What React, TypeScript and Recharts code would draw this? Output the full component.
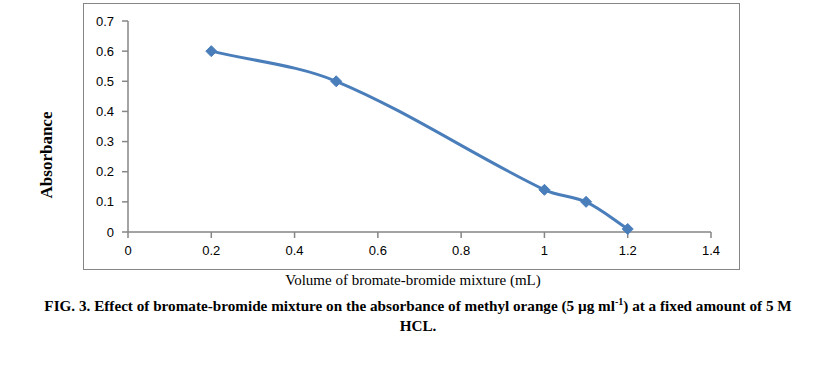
import { LineChart, Line, XAxis, YAxis } from 'recharts';

const volume = [0.2, 0.5, 1.0, 1.1, 1.2];
const absorbance = [0.6, 0.5, 0.14, 0.1, 0.01];
const xTicks = [0, 0.2, 0.4, 0.6, 0.8, 1, 1.2, 1.4];
const yTicks = [0, 0.1, 0.2, 0.3, 0.4, 0.5, 0.6, 0.7];

const data = volume.map((v, i) => ({ v, a: absorbance[i] }));

const BLUE = '#4a7ebb';
const AXIS = '#868686';
const tickStyle = { fill: '#000', fontSize: 13, fontFamily: 'Liberation Sans, Arial, sans-serif' };

// smoothed line like Excel's: tangent along neighbours, handle length from segment length
function excelCurve(context: any) {
  let pts: number[][] = [];
  const tangent = (a: number[], b: number[]) => {
    const dx = b[0] - a[0], dy = b[1] - a[1];
    const l = Math.hypot(dx, dy) || 1;
    return [dx / l, dy / l];
  };
  return {
    areaStart() {},
    areaEnd() {},
    lineStart() { pts = []; },
    point(x: number, y: number) { pts.push([+x, +y]); },
    lineEnd() {
      const n = pts.length;
      if (!n) return;
      context.moveTo(pts[0][0], pts[0][1]);
      for (let i = 0; i < n - 1; i++) {
        const p0 = pts[Math.max(i - 1, 0)], p1 = pts[i], p2 = pts[i + 1], p3 = pts[Math.min(i + 2, n - 1)];
        const len = Math.hypot(p2[0] - p1[0], p2[1] - p1[1]) / 3;
        const t1 = tangent(p0, p2);
        const t2 = tangent(p1, p3);
        context.bezierCurveTo(
          p1[0] + t1[0] * len, p1[1] + t1[1] * len,
          p2[0] - t2[0] * len, p2[1] - t2[1] * len,
          p2[0], p2[1],
        );
      }
    },
  };
}

function Diamond(props: any) {
  const { cx, cy } = props;
  if (cx == null || cy == null) return null;
  const r = 5.5;
  return (
    <path
      d={`M${cx},${cy - r} L${cx + r},${cy} L${cx},${cy + r} L${cx - r},${cy} Z`}
      fill={BLUE}
      stroke={BLUE}
      strokeWidth={1}
    />
  );
}

export default function App() {
  return (
    <div style={{ position: 'absolute', left: 0, top: 0, width: 814, height: 366, background: '#fff' }}>
      <div style={{ position: 'absolute', left: 83, top: 3, width: 655, height: 265, border: `1.5px solid ${AXIS}` }} />
      <div style={{ position: 'absolute', left: 0, top: 0 }}>
        <LineChart width={814} height={366} data={data} margin={{ top: 21, right: 103, left: 68, bottom: 104 }}>
          <XAxis
            dataKey="v"
            type="number"
            domain={[0, 1.4]}
            ticks={xTicks}
            interval={0}
            height={30}
            stroke={AXIS}
            strokeWidth={1.5}
            tickSize={6}
            tickMargin={8}
            tick={tickStyle}
          />
          <YAxis
            dataKey="a"
            type="number"
            domain={[0, 0.7]}
            ticks={yTicks}
            interval={0}
            width={60}
            stroke={AXIS}
            strokeWidth={1.5}
            tickSize={6}
            tickMargin={8}
            tick={tickStyle}
          />
          <Line
            type={excelCurve as any}
            dataKey="a"
            stroke={BLUE}
            strokeWidth={3}
            dot={<Diamond />}
            activeDot={false}
            isAnimationActive={false}
          />
        </LineChart>
      </div>
      <div
        style={{
          position: 'absolute', left: 47, top: 155, transform: 'translate(-50%, -50%) rotate(-90deg)',
          fontFamily: 'Liberation Serif, Times New Roman, serif', fontWeight: 'bold', fontSize: 17, whiteSpace: 'nowrap',
        }}
      >
        Absorbance
      </div>
      <div
        style={{
          position: 'absolute', left: 0, width: 826, top: 272, textAlign: 'center',
          fontFamily: 'Liberation Serif, Times New Roman, serif', fontSize: 15, whiteSpace: 'nowrap',
        }}
      >
        Volume of bromate-bromide mixture (mL)
      </div>
      <div
        style={{
          position: 'absolute', left: 0, width: 836, top: 296, textAlign: 'center',
          fontFamily: 'Liberation Serif, Times New Roman, serif', fontWeight: 'bold', fontSize: 15.2, lineHeight: '20px',
        }}
      >
        <div style={{ whiteSpace: 'nowrap' }}>
          FIG. 3. Effect of bromate-bromide mixture on the absorbance of methyl orange (5 µg ml<sup style={{ fontSize: 10, lineHeight: 0 }}>-1</sup>) at a fixed amount of 5 M
        </div>
        <div>HCL.</div>
      </div>
    </div>
  );
}
